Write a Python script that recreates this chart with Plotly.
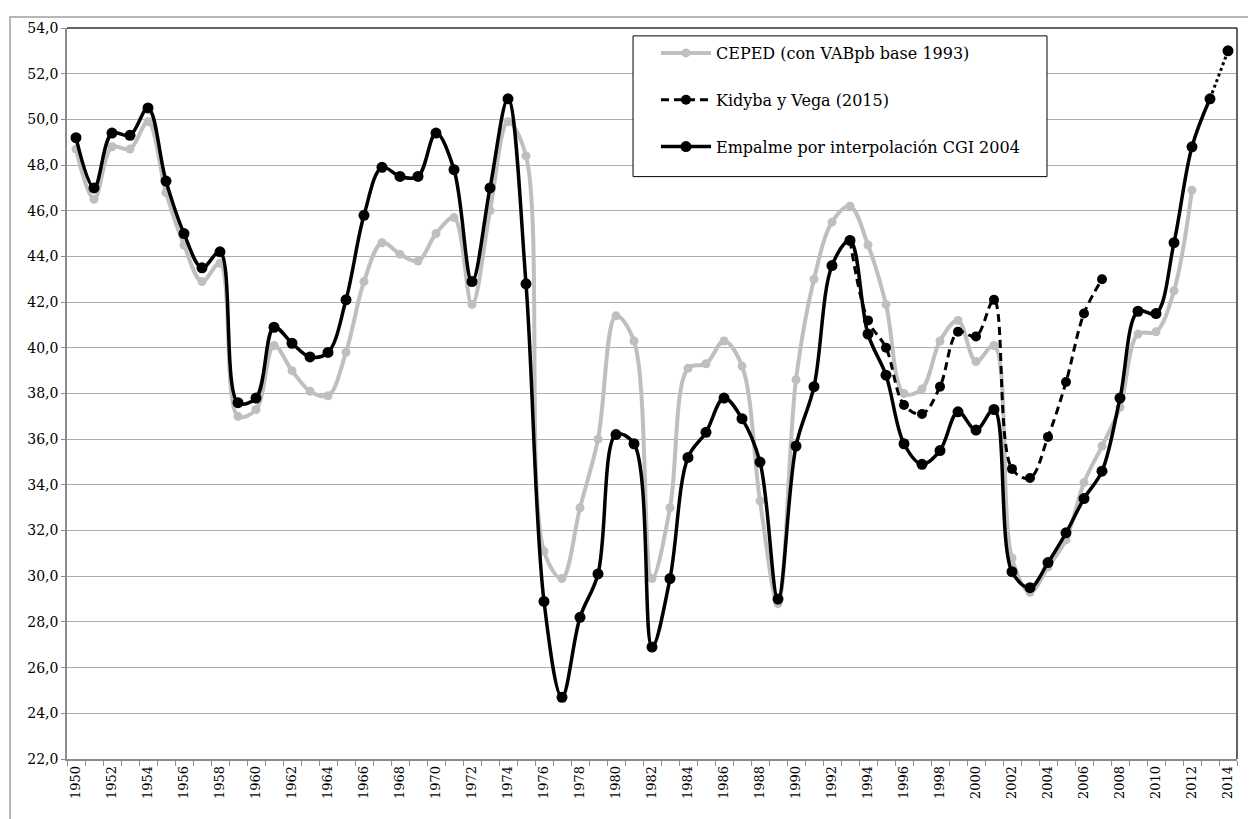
import plotly.graph_objects as go

# ---------------- data ----------------
years_ceped = list(range(1950, 2013))
ceped = [48.7, 46.5, 48.8, 48.7, 49.9, 46.8, 44.5, 42.9, 43.7, 37.0,
         37.3, 40.1, 39.0, 38.1, 37.9, 39.8, 42.9, 44.6, 44.1, 43.8,
         45.0, 45.7, 41.9, 46.0, 49.9, 48.4, 31.1, 29.9, 33.0, 36.0,
         41.4, 40.3, 29.9, 33.0, 39.1, 39.3, 40.3, 39.2, 33.3, 28.8,
         38.6, 43.0, 45.5, 46.2, 44.5, 41.9, 38.0, 38.2, 40.3, 41.2,
         39.4, 40.1, 30.8, 29.3, 30.4, 31.6, 34.1, 35.7, 37.4, 40.6,
         40.7, 42.5, 46.9]

years_kv = list(range(1993, 2008))
kidyba_vega = [44.7, 41.2, 40.0, 37.5, 37.1, 38.3, 40.7, 40.5, 42.1, 34.7,
               34.3, 36.1, 38.5, 41.5, 43.0]

years_emp = list(range(1950, 2014))
empalme = [49.2, 47.0, 49.4, 49.3, 50.5, 47.3, 45.0, 43.5, 44.2, 37.6,
           37.8, 40.9, 40.2, 39.6, 39.8, 42.1, 45.8, 47.9, 47.5, 47.5,
           49.4, 47.8, 42.9, 47.0, 50.9, 42.8, 28.9, 24.7, 28.2, 30.1,
           36.2, 35.8, 26.9, 29.9, 35.2, 36.3, 37.8, 36.9, 35.0, 29.0,
           35.7, 38.3, 43.6, 44.7, 40.6, 38.8, 35.8, 34.9, 35.5, 37.2,
           36.4, 37.3, 30.2, 29.5, 30.6, 31.9, 33.4, 34.6, 37.8, 41.6,
           41.5, 44.6, 48.8, 50.9]

years_proj = [2013, 2014]
proyeccion = [50.9, 53.0]

label_years = list(range(1950, 2015, 2))

names = ["CEPED (con VABpb base 1993)",
         "Kidyba y Vega (2015)",
         "Empalme por interpolación CGI 2004"]

FONT = "DejaVu Serif"

fig = go.Figure()

fig.add_trace(go.Scatter(
    x=years_ceped, y=ceped, name=names[0], mode="lines+markers",
    line=dict(color="#BFBFBF", width=4, shape="spline", smoothing=1),
    marker=dict(color="#BFBFBF", size=9), legendgroup="a"))

fig.add_trace(go.Scatter(
    x=years_kv, y=kidyba_vega, name=names[1], mode="lines+markers",
    line=dict(color="black", width=3, shape="spline", smoothing=1, dash="8px,5px"),
    marker=dict(color="black", size=10), legendgroup="b"))

fig.add_trace(go.Scatter(
    x=years_emp, y=empalme, name=names[2], mode="lines+markers",
    line=dict(color="black", width=3.5, shape="spline", smoothing=1),
    marker=dict(color="black", size=11), legendgroup="c"))

fig.add_trace(go.Scatter(
    x=years_proj, y=proyeccion, mode="lines", showlegend=False,
    line=dict(color="black", width=3, dash="dot")))
fig.add_trace(go.Scatter(
    x=years_proj[1:], y=proyeccion[1:], mode="markers", showlegend=False,
    marker=dict(color="black", size=11, opacity=1, line=dict(width=0))))

# legend box
fig.add_shape(type="rect", xref="paper", yref="paper",
              x0=0.4838, x1=0.8376, y0=0.7967, y1=0.9892,
              fillcolor="white", line=dict(color="black", width=1), layer="above")
# top & right plot border
fig.add_shape(type="line", xref="paper", yref="paper", x0=0, x1=1, y0=1, y1=1,
              line=dict(color="#303030", width=1.5))
fig.add_shape(type="line", xref="paper", yref="paper", x0=1, x1=1, y0=0, y1=1,
              line=dict(color="#303030", width=1.5))
# outer chart frame
fig.add_shape(type="rect", xref="paper", yref="paper",
              x0=-0.0487, x1=1.2, y0=-0.3, y1=1.0149,
              line=dict(color="#A0A0A0", width=1.5), layer="below")

fig.update_layout(
    width=1248, height=811,
    margin=dict(l=59, r=19, t=13, b=60),
    paper_bgcolor="white", plot_bgcolor="white",
    separators=",.",
    font=dict(family=FONT, color="black"),
    showlegend=True,
    legend=dict(x=0.5034, y=0.989, xanchor="left", yanchor="top",
                bgcolor="rgba(0,0,0,0)", borderwidth=0,
                font=dict(family=FONT, size=16, color="black"),
                tracegroupgap=23, itemwidth=50),
    xaxis=dict(range=[1949.5, 2014.5], tickmode="array", tickvals=label_years,
               ticktext=[str(y) for y in label_years], tickangle=-90,
               ticks="", showgrid=False, zeroline=False,
               showline=True, linecolor="#8C8C8C", linewidth=1.5,
               tickfont=dict(family=FONT, size=13, color="black"),
               minor=dict(tickvals=[1949.5 + k for k in range(66)], ticks="outside",
                          ticklen=5, tickcolor="#8C8C8C", showgrid=False)),
    yaxis=dict(range=[22, 54], dtick=2, tick0=22, tickformat=".1f",
               showgrid=True, gridcolor="#ADADAD", gridwidth=1,
               zeroline=False, showline=True, linecolor="#8C8C8C", linewidth=1.5,
               ticks="outside", ticklen=4, tickcolor="#8C8C8C",
               tickfont=dict(family=FONT, size=14, color="black")),
)

fig.write_html("out.html")
